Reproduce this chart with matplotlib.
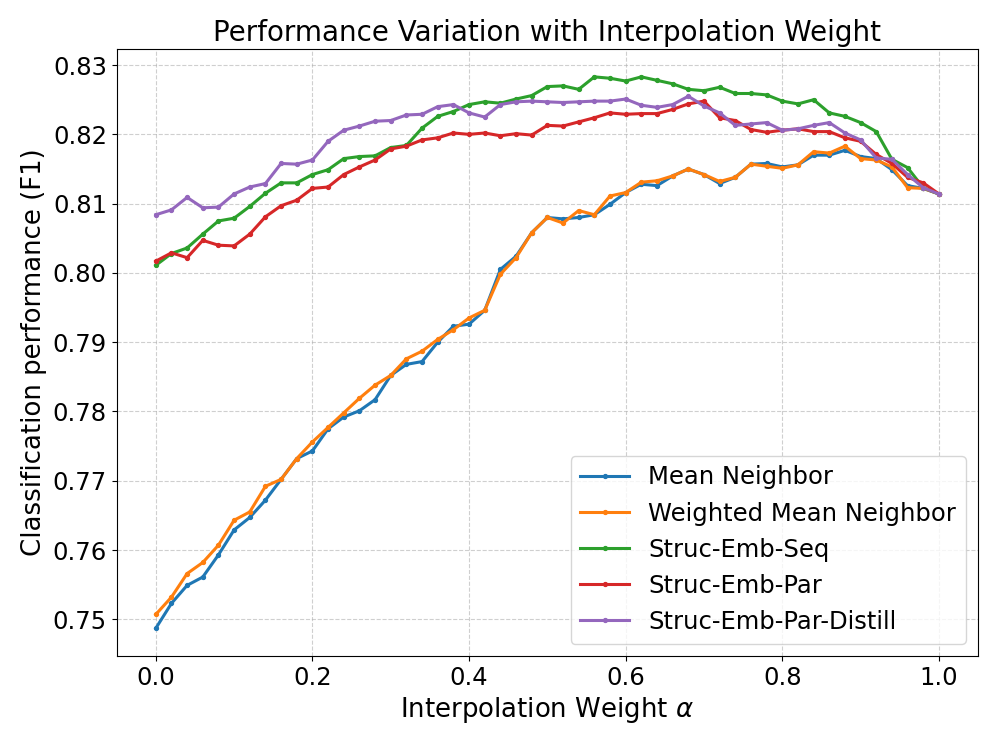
import numpy as np
import matplotlib
matplotlib.use("Agg")
import matplotlib.pyplot as plt

alpha = np.round(np.arange(0, 1.0001, 0.02), 2)

mean_neighbor = [0.7487, 0.7523, 0.7549, 0.7561, 0.7593, 0.7629, 0.7647, 0.7672, 0.7702, 0.7732,
                 0.7743, 0.7775, 0.7792, 0.7801, 0.7817, 0.7852, 0.7868, 0.7872, 0.7900, 0.7923,
                 0.7926, 0.7946, 0.8005, 0.8024, 0.8058, 0.8080, 0.8078, 0.8080, 0.8084, 0.8099,
                 0.8116, 0.8128, 0.8126, 0.8140, 0.8150, 0.8142, 0.8129, 0.8138, 0.8157, 0.8158,
                 0.8153, 0.8156, 0.8170, 0.8170, 0.8177, 0.8168, 0.8165, 0.8149, 0.8126, 0.8122,
                 0.8114]
weighted_mean = [0.7507, 0.7532, 0.7566, 0.7582, 0.7607, 0.7643, 0.7655, 0.7692, 0.7702, 0.7732,
                 0.7756, 0.7777, 0.7798, 0.7819, 0.7838, 0.7852, 0.7876, 0.7887, 0.7904, 0.7918,
                 0.7935, 0.7946, 0.7998, 0.8022, 0.8058, 0.8080, 0.8072, 0.8090, 0.8084, 0.8111,
                 0.8116, 0.8131, 0.8133, 0.8140, 0.8150, 0.8142, 0.8132, 0.8138, 0.8157, 0.8154,
                 0.8151, 0.8156, 0.8175, 0.8173, 0.8183, 0.8165, 0.8163, 0.8153, 0.8123, 0.8122,
                 0.8114]
struc_seq = [0.8011, 0.8028, 0.8036, 0.8056, 0.8075, 0.8079, 0.8096, 0.8115, 0.8130, 0.8130,
             0.8142, 0.8149, 0.8165, 0.8168, 0.8169, 0.8181, 0.8184, 0.8209, 0.8226, 0.8233,
             0.8243, 0.8247, 0.8245, 0.8251, 0.8256, 0.8269, 0.8270, 0.8265, 0.8283, 0.8281,
             0.8277, 0.8283, 0.8278, 0.8273, 0.8265, 0.8263, 0.8268, 0.8259, 0.8259, 0.8257,
             0.8248, 0.8244, 0.8250, 0.8231, 0.8226, 0.8217, 0.8204, 0.8164, 0.8152, 0.8123,
             0.8114]
struc_par = [0.8017, 0.8029, 0.8022, 0.8047, 0.8040, 0.8039, 0.8056, 0.8081, 0.8097, 0.8105,
             0.8122, 0.8124, 0.8142, 0.8153, 0.8163, 0.8179, 0.8183, 0.8192, 0.8195, 0.8202,
             0.8200, 0.8202, 0.8198, 0.8201, 0.8199, 0.8213, 0.8212, 0.8218, 0.8224, 0.8231,
             0.8229, 0.8230, 0.8230, 0.8236, 0.8244, 0.8248, 0.8224, 0.8220, 0.8207, 0.8203,
             0.8206, 0.8208, 0.8204, 0.8204, 0.8195, 0.8190, 0.8171, 0.8158, 0.8138, 0.8130,
             0.8114]
struc_par_distill = [0.8084, 0.8091, 0.8109, 0.8094, 0.8095, 0.8114, 0.8124, 0.8129, 0.8158, 0.8157,
                     0.8163, 0.8190, 0.8206, 0.8212, 0.8219, 0.8220, 0.8228, 0.8229, 0.8240, 0.8243,
                     0.8231, 0.8225, 0.8243, 0.8247, 0.8248, 0.8247, 0.8246, 0.8247, 0.8248, 0.8248,
                     0.8251, 0.8242, 0.8239, 0.8243, 0.8255, 0.8241, 0.8231, 0.8213, 0.8215, 0.8217,
                     0.8206, 0.8208, 0.8213, 0.8217, 0.8202, 0.8192, 0.8166, 0.8164, 0.8142, 0.8123,
                     0.8114]

series = {
    "Mean Neighbor": mean_neighbor,
    "Weighted Mean Neighbor": weighted_mean,
    "Struc-Emb-Seq": struc_seq,
    "Struc-Emb-Par": struc_par,
    "Struc-Emb-Par-Distill": struc_par_distill,
}

fig, ax = plt.subplots(figsize=(9.97, 7.47), dpi=100)
fig.subplots_adjust(left=0.117, right=0.981, top=0.934, bottom=0.122)

for name, vals in series.items():
    ax.plot(alpha, vals, marker='o', markersize=2.8, linewidth=2.2, label=name)

ax.set_title("Performance Variation with Interpolation Weight", fontsize=20)
ax.set_xlabel(r"Interpolation Weight $\alpha$", fontsize=18.75)
ax.set_ylabel("Classification performance (F1)", fontsize=18.75)
ax.tick_params(labelsize=17.5)
ax.grid(True, linestyle='--', alpha=0.6)
ax.legend(loc='lower right', fontsize=17.5)

fig.savefig("out.png", dpi=100)
